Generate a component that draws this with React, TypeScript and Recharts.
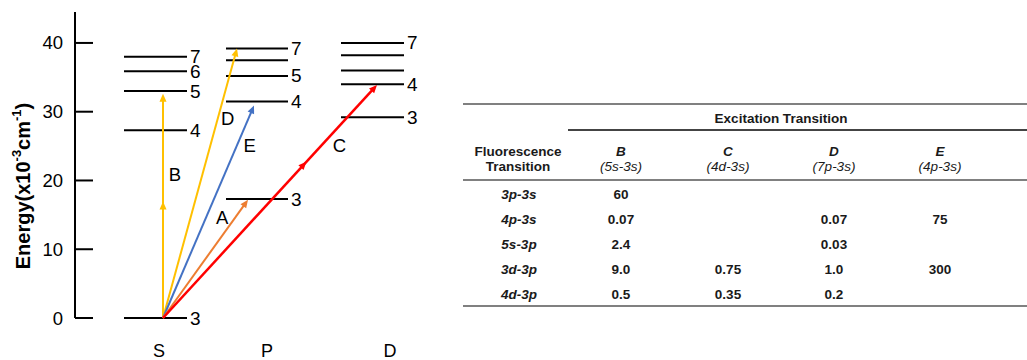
import { ComposedChart, XAxis, YAxis, ReferenceLine, Scatter } from 'recharts';

// energy axis (x10^3 cm^-1)
const energyTicks = [0, 10, 20, 30, 40];

// term columns along the horizontal axis
const terms = ['S', 'P', 'D'];
const termTickPos = [8.4, 19.2, 31.5];

// levels, per column (n label, energy)
const sNames = ['3', '4', '5', '6', '7'];
const sEnergy = [0, 27.3, 33.0, 35.9, 38.0];
const pNames = ['3', '4', '5', '', '7'];
const pEnergy = [17.3, 31.5, 35.2, 37.5, 39.2];
const dNames = ['3', '4', '', '', '7'];
const dEnergy = [29.2, 34.0, 36.0, 38.2, 40.0];

// excitation arrows, all starting from the 3s ground state
const groundX = 8.8;
const arrowNames = ['B', 'D', 'E', 'A', 'C'];
const arrowEndX = [8.8, 16.2, 17.9, 17.3, 30.2];
const arrowEndE = [32.6, 39.2, 30.9, 17.2, 33.9];

// table
const fluorRows = ['3p-3s', '4p-3s', '5s-3p', '3d-3p', '4d-3p'];
const excitCols = ['B', 'C', 'D', 'E'];
const excitSub = ['(5s-3s)', '(4d-3s)', '(7p-3s)', '(4p-3s)'];
const colB = ['60', '0.07', '2.4', '9.0', '0.5'];
const colC = ['', '', '', '0.75', '0.35'];
const colD = ['', '0.07', '0.03', '1.0', '0.2'];
const colE = ['', '75', '', '300', ''];

const FONT = '"Liberation Sans", Arial, sans-serif';

// horizontal extent of each column's level bars (axis units)
const termSpan: Record<string, [number, number]> = {
  S: [4.9, 11.2],
  P: [15.1, 21.3],
  D: [26.6, 32.9],
};

const columns: [string, string[], number[]][] = [
  ['S', sNames, sEnergy],
  ['P', pNames, pEnergy],
  ['D', dNames, dEnergy],
];

// right-hand end of every level bar, carrying its n label
const levelEnds = columns.flatMap(([term, names, energies]) =>
  energies.map((e, i) => ({ x: termSpan[term][1], e, name: names[i] })),
);

const arrowStyle: Record<string, { color: string; width: number; mid?: number; tagAt: number; tagDx: number }> = {
  B: { color: '#FFC000', width: 2, mid: 0.52, tagAt: 0.64, tagDx: 12 },
  D: { color: '#FFC000', width: 2, tagAt: 0.74, tagDx: 10 },
  E: { color: '#4472C4', width: 2, tagAt: 0.81, tagDx: 13 },
  A: { color: '#ED7D31', width: 2, tagAt: 0.85, tagDx: -13 },
  C: { color: '#FF0000', width: 2.5, mid: 0.67, tagAt: 0.74, tagDx: 18 },
};

const levelShape = (p: any) => (
  <line x1={p.x1} y1={p.y1} x2={p.x2} y2={p.y2} stroke="#000" strokeWidth={2} />
);

const LevelTag = ({ cx, cy, payload }: any) =>
  payload.name ? (
    <text x={cx + 3} y={cy} fontSize={19} fontFamily={FONT} fill="#000" dominantBaseline="central">
      {payload.name}
    </text>
  ) : (
    <g />
  );

const arrowShape = (name: string) => (p: any) => {
  const st = arrowStyle[name];
  const { x1, y1, x2, y2 } = p;
  const dx = x2 - x1;
  const dy = y2 - y1;
  const len = Math.hypot(dx, dy);
  const ux = dx / len;
  const uy = dy / len;
  const head = (t: number) => {
    const hx = x1 + dx * t;
    const hy = y1 + dy * t;
    const bx = hx - ux * 8;
    const by = hy - uy * 8;
    const w = 3.5;
    return (
      <polygon
        points={`${hx},${hy} ${bx - uy * w},${by + ux * w} ${bx + uy * w},${by - ux * w}`}
        fill={st.color}
      />
    );
  };
  return (
    <g>
      <line x1={x1} y1={y1} x2={x2 - ux * 6} y2={y2 - uy * 6} stroke={st.color} strokeWidth={st.width} />
      {head(1)}
      {st.mid && head(st.mid)}
      <text
        x={x1 + dx * st.tagAt + st.tagDx}
        y={y1 + dy * st.tagAt}
        fontSize={18.5}
        fontFamily={FONT}
        fill="#000"
        textAnchor="middle"
        dominantBaseline="central"
      >
        {name}
      </text>
    </g>
  );
};

const YTick = ({ x, y, payload }: any) => (
  <g>
    <line x1={x} y1={y} x2={x + 18} y2={y} stroke="#000" strokeWidth={2} />
    <text x={x - 12} y={y} textAnchor="end" dominantBaseline="central" fontSize={18.5} fontFamily={FONT} fill="#000">
      {payload.value}
    </text>
  </g>
);

const XTick = ({ x, y, index }: any) => (
  <text x={x} y={y + 32.5} textAnchor="middle" dominantBaseline="central" fontSize={18} fontFamily={FONT} fill="#000">
    {terms[index]}
  </text>
);

const YLabel = ({ viewBox }: any) => {
  const cx = viewBox.x + 23;
  const cy = viewBox.y + viewBox.height / 2 + 21;
  return (
    <text
      x={cx}
      y={cy}
      transform={`rotate(-90, ${cx}, ${cy})`}
      textAnchor="middle"
      dominantBaseline="central"
      fontSize={20}
      fontWeight="bold"
      fontFamily={FONT}
      fill="#000"
    >
      Energy(x10
      <tspan dy={-7} fontSize={13}>-3</tspan>
      <tspan dy={7}>cm</tspan>
      <tspan dy={-7} fontSize={13}>-1</tspan>
      <tspan dy={7}>)</tspan>
    </text>
  );
};

function EnergyDiagram() {
  return (
    <ComposedChart width={460} height={360} data={levelEnds} margin={{ top: 12, right: 25, bottom: 0, left: 0 }}>
      <XAxis
        type="number"
        dataKey="x"
        domain={[0, 36]}
        ticks={termTickPos}
        axisLine={false}
        tickLine={false}
        tickSize={0}
        tickMargin={0}
        height={42}
        tick={<XTick />}
        interval={0}
      />
      <YAxis
        type="number"
        dataKey="e"
        domain={[0, 44.5]}
        ticks={energyTicks}
        width={75}
        axisLine={{ stroke: '#000', strokeWidth: 2 }}
        tickLine={false}
        tickSize={0}
        tickMargin={0}
        tick={<YTick />}
        interval={0}
        label={(props: any) => <YLabel {...props} />}
      />
      {columns.map(([term, , energies]) =>
        energies.map((e, i) => (
          <ReferenceLine
            key={`${term}-${i}`}
            segment={[
              { x: termSpan[term][0], y: e },
              { x: termSpan[term][1], y: e },
            ]}
            shape={levelShape}
          />
        )),
      )}
      <Scatter data={levelEnds} shape={<LevelTag />} isAnimationActive={false} />
      {arrowNames.map((n, i) => (
        <ReferenceLine
          key={`arrow-${n}`}
          segment={[
            { x: groundX, y: 0 },
            { x: arrowEndX[i], y: arrowEndE[i] },
          ]}
          shape={arrowShape(n)}
        />
      ))}
    </ComposedChart>
  );
}

const colX = [621, 728, 834, 940];
const rowY = (i: number) => 194 + i * 25;

const cell = (x: number, y: number, style: React.CSSProperties = {}) => ({
  position: 'absolute' as const,
  left: x,
  top: y,
  transform: 'translate(-50%, -50%)',
  whiteSpace: 'nowrap' as const,
  fontFamily: FONT,
  fontSize: 13.5,
  color: '#1a1a1a',
  lineHeight: '15px',
  textAlign: 'center' as const,
  ...style,
});

function DataTable() {
  const cols = [colB, colC, colD, colE];
  return (
    <div style={{ position: 'absolute', left: 0, top: 0, width: 1027, height: 360 }}>
      <div style={{ position: 'absolute', left: 463, top: 103, width: 564, height: 2, background: '#808080' }} />
      <div style={{ position: 'absolute', left: 568, top: 129, width: 459, height: 1.5, background: '#444' }} />
      <div style={{ position: 'absolute', left: 463, top: 179, width: 564, height: 2, background: '#808080' }} />
      <div style={{ position: 'absolute', left: 463, top: 305, width: 564, height: 2, background: '#808080' }} />

      <div style={cell(781, 118, { fontWeight: 'bold' })}>Excitation Transition</div>
      <div style={cell(518, 159, { fontWeight: 'bold' })}>
        Fluorescence
        <br />
        Transition
      </div>
      {excitCols.map((c, j) => (
        <div key={c} style={cell(colX[j], 159)}>
          <span style={{ fontWeight: 'bold', fontStyle: 'italic' }}>{c}</span>
          <br />
          <span style={{ fontStyle: 'italic' }}>{excitSub[j]}</span>
        </div>
      ))}
      {fluorRows.map((r, i) => (
        <div key={r} style={cell(519, rowY(i), { fontWeight: 'bold', fontStyle: 'italic' })}>
          {r}
        </div>
      ))}
      {cols.map((col, j) =>
        col.map((v, i) =>
          v ? (
            <div key={`${j}-${i}`} style={cell(colX[j], rowY(i), { fontWeight: 'bold' })}>
              {v}
            </div>
          ) : null,
        ),
      )}
    </div>
  );
}

export default function App() {
  return (
    <div style={{ position: 'absolute', left: 0, top: 0, width: 1027, height: 360, background: '#fff' }}>
      <div style={{ position: 'absolute', left: 0, top: 0 }}>
        <EnergyDiagram />
      </div>
      <DataTable />
    </div>
  );
}
